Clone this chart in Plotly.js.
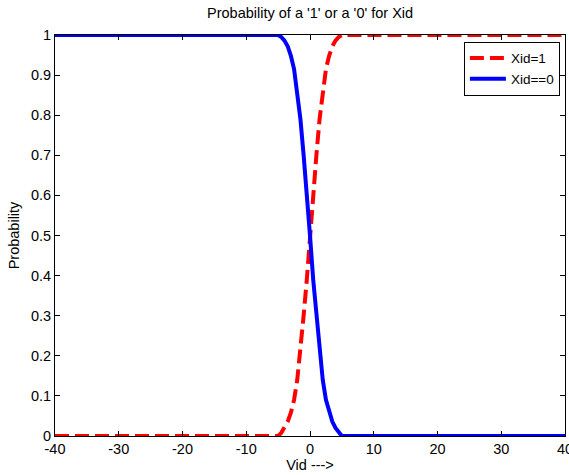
<!DOCTYPE html>
<html>
<head>
<meta charset="utf-8">
<script src="https://cdn.plot.ly/plotly-3.0.1.min.js"></script>
<style>html,body{margin:0;padding:0;background:#fff;}#chart{width:569px;height:475px;}</style>
</head>
<body>
<div id="chart"></div>
<script>
// Vid values
var vid = [-40, -5, -4.5, -4, -3.5, -3, -2.5, -2, -1.5, -1, -0.5, 0, 0.5, 1, 1.5, 2, 2.5, 3, 3.5, 4, 4.5, 5, 40];
// Probability Xid = 1
var pOne = [0, 0, 0.008, 0.02, 0.036, 0.058, 0.09, 0.14, 0.21, 0.30, 0.39, 0.5, 0.61, 0.70, 0.79, 0.86, 0.915, 0.948, 0.972, 0.986, 0.995, 1, 1];
// Probability Xid == 0
var pZero = [1, 1, 0.995, 0.986, 0.972, 0.948, 0.915, 0.86, 0.79, 0.70, 0.61, 0.5, 0.39, 0.30, 0.21, 0.14, 0.09, 0.058, 0.036, 0.02, 0.008, 0, 0];
var xTicks = [-40, -30, -20, -10, 0, 10, 20, 30, 40];
var xTickText = ['-40', '-30', '-20', '-10', '0', '10', '20', '30', '40'];
var yTicks = [0, 0.1, 0.2, 0.3, 0.4, 0.5, 0.6, 0.7, 0.8, 0.9, 1];
var yTickText = ['0', '0.1', '0.2', '0.3', '0.4', '0.5', '0.6', '0.7', '0.8', '0.9', '1'];

var font = 'Liberation Sans, Arial, sans-serif';
var fs = 14.5;
var traces = [
  {x: vid, y: pOne, name: 'Xid=1', mode: 'lines', type: 'scatter', cliponaxis: false,
   line: {color: '#ff0000', width: 4, dash: '14px,6px'}},
  {x: vid, y: pZero, name: 'Xid==0', mode: 'lines', type: 'scatter', cliponaxis: false,
   line: {color: '#0000ff', width: 4}}
];
var axisCommon = {
  showline: true, linecolor: '#000', linewidth: 1, mirror: 'allticks',
  ticks: 'inside', ticklen: 5, tickcolor: '#000', tickwidth: 1,
  showgrid: false, zeroline: false, ticklabeloverflow: 'allow',
  tickfont: {family: font, size: fs, color: '#000'}
};
var layout = {
  width: 569, height: 475,
  margin: {l: 55, r: 4, t: 35, b: 39},
  paper_bgcolor: '#fff', plot_bgcolor: '#fff',
  title: {text: "Probability of a '1' or a '0' for Xid", x: 0.545, xanchor: 'center', y: 0.972, yanchor: 'middle',
          font: {family: font, size: fs, color: '#000'}},
  xaxis: Object.assign({}, axisCommon, {range: [-40, 40], tickvals: xTicks, ticktext: xTickText, automargin: false,
    title: {text: 'Vid --->', standoff: 2, font: {family: font, size: fs, color: '#000'}}}),
  yaxis: Object.assign({}, axisCommon, {range: [0, 1], tickvals: yTicks, ticktext: yTickText, automargin: false,
    title: {text: 'Probability', standoff: 7, font: {family: font, size: fs, color: '#000'}}}),
  showlegend: true,
  legend: {x: 0.99, xanchor: 'right', y: 0.983, yanchor: 'top', bgcolor: '#fff',
           bordercolor: '#000', borderwidth: 1, font: {family: font, size: 13.5, color: '#000'},
           tracegroupgap: 0, itemwidth: 36}
};
Plotly.newPlot('chart', traces, layout, {displayModeBar: false, staticPlot: true});
</script>
</body>
</html>
